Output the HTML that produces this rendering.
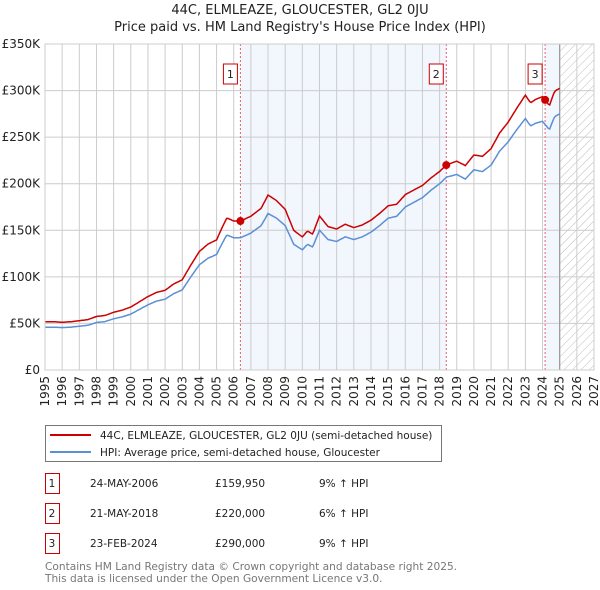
<!DOCTYPE html>
<html><head><meta charset="utf-8"><style>
body{margin:0;background:#fff;font-family:"DejaVu Sans","Liberation Sans",sans-serif;}
#wrap{position:relative;width:600px;height:590px;overflow:hidden}
svg text{font-family:"DejaVu Sans","Liberation Sans",sans-serif}
</style></head><body><div id="wrap">
<svg id="chart" width="600" height="590"></svg>
</div>
<script>
const hpiYears=[1995,1995.5,1996,1996.5,1997,1997.5,1998,1998.5,1999,1999.5,2000,2000.5,2001,2001.5,2002,2002.5,2003,2003.5,2004,2004.5,2005,2005.3,2005.6,2006,2006.4,2007,2007.6,2008,2008.5,2009,2009.5,2010,2010.3,2010.6,2011,2011.5,2012,2012.5,2013,2013.5,2014,2014.5,2015,2015.5,2016,2016.5,2017,2017.5,2018,2018.4,2019,2019.5,2020,2020.5,2021,2021.5,2022,2022.5,2023,2023.3,2023.6,2024,2024.4,2024.7,2025];
const hpiValues=[46,46,45.5,46,47,48,51,52,55,57,60,65,70,74,76,82,86,100,113,120,124,135,145,142,142,147,155,168,163,155,135,129,135,132,150,140,138,143,140,143,148,155,163,165,175,180,185,193,200,207,210,205,215,213,220,235,245,258,270,262,265,267,258,272,275];
const saleYears=[2006.39,2018.39,2024.15];
const salePrices=[159950,220000,290000];
const saleLabels=["1","2","3"];
const saleDates=["24-MAY-2006","21-MAY-2018","23-FEB-2024"];
const salePriceText=["£159,950","£220,000","£290,000"];
const saleDiff=["9% ↑ HPI","6% ↑ HPI","9% ↑ HPI"];
const yTicks=[0,50,100,150,200,250,300,350];
const yTickLabels=["£0","£50K","£100K","£150K","£200K","£250K","£300K","£350K"];
const xTicks=[1995,1996,1997,1998,1999,2000,2001,2002,2003,2004,2005,2006,2007,2008,2009,2010,2011,2012,2013,2014,2015,2016,2017,2018,2019,2020,2021,2022,2023,2024,2025,2026,2027];

const NS="http://www.w3.org/2000/svg";
const svg=document.getElementById('chart');
const L=45,R=594,T=44,B=370;
const x=v=>L+(v-1995)/(2027-1995)*(R-L);
const y=v=>B-v/350*(B-T);
function el(t,a,p){const e=document.createElementNS(NS,t);for(const k in a)e.setAttribute(k,a[k]);(p||svg).appendChild(e);return e;}
function hpiAt(t){for(let i=0;i<hpiYears.length-1;i++){if(t<=hpiYears[i+1]){const f=(t-hpiYears[i])/(hpiYears[i+1]-hpiYears[i]);return hpiValues[i]+f*(hpiValues[i+1]-hpiValues[i]);}}return hpiValues[hpiValues.length-1];}

let t=el('text',{x:300,y:14,'text-anchor':'middle','font-size':13,fill:'#222'});t.textContent="44C, ELMLEAZE, GLOUCESTER, GL2 0JU";

t=el('text',{x:300,y:31,'text-anchor':'middle','font-size':13,fill:'#222'});t.textContent="Price paid vs. HM Land Registry's House Price Index (HPI)";


let s=el('rect',{x:x(saleYears[0]),y:T,width:x(saleYears[1])-x(saleYears[0]),height:B-T,fill:'#f2f6fd'});

s=el('rect',{x:x(saleYears[2]),y:T,width:x(2025)-x(saleYears[2]),height:B-T,fill:'#f2f6fd'});

const defs=el('defs',{});
const pat=el('pattern',{id:'hatch',width:6,height:6,patternUnits:'userSpaceOnUse',patternTransform:'rotate(45)'},defs);
el('line',{x1:0,y1:0,x2:0,y2:6,stroke:'#bbb','stroke-width':1},pat);
s=el('rect',{x:x(2025),y:T,width:R-x(2025),height:B-T,fill:'url(#hatch)'});


yTicks.forEach((v,i)=>{const g=el('line',{x1:L,x2:R,y1:y(v),y2:y(v),stroke:'#ccc'});

const tx=el('text',{x:L-5,y:y(v)+4,'text-anchor':'end','font-size':12,fill:'#222'});tx.textContent=yTickLabels[i];
});
xTicks.forEach(v=>{const g=el('line',{x1:x(v),x2:x(v),y1:T,y2:B,stroke:'#ccc'});

const tx=el('text',{x:0,y:0,'text-anchor':'end','font-size':12,fill:'#222',transform:`translate(${x(v)+4},${B+6}) rotate(-90)`});tx.textContent=v;
});
let ln=el('line',{x1:x(2025),x2:x(2025),y1:T,y2:B,stroke:'#999','stroke-width':1.2});


saleYears.forEach((sy,i)=>{const v=el('line',{x1:x(sy),x2:x(sy),y1:T,y2:B,stroke:'#e06070','stroke-dasharray':'2,2'});
});

const factors=saleYears.map((sy,i)=>salePrices[i]/1000/hpiAt(sy));
function factorAt(t){if(t<=saleYears[0])return factors[0];for(let i=0;i<saleYears.length-1;i++){if(t<=saleYears[i+1]){const f=(t-saleYears[i])/(saleYears[i+1]-saleYears[i]);return factors[i]+f*(factors[i+1]-factors[i]);}}return factors[factors.length-1];}
let hp="",rp="";
for(let tt=1995;tt<=2025.001;tt+=1/12){const h=hpiAt(tt);hp+=(hp?'L':'M')+x(tt).toFixed(1)+','+y(h).toFixed(1);rp+=(rp?'L':'M')+x(tt).toFixed(1)+','+y(h*factorAt(tt)).toFixed(1);}
let p=el('path',{d:hp,fill:'none',stroke:'#5b8fd6','stroke-width':1.5});

p=el('path',{d:rp,fill:'none',stroke:'#cc0000','stroke-width':1.5});

saleYears.forEach((sy,i)=>{const c=el('circle',{cx:x(sy),cy:y(salePrices[i]/1000),r:4,fill:'#cc0000'});

const bx=el('rect',{x:x(sy)-17,y:64,width:14,height:20,fill:'#fff',stroke:'#cc0000'});

const tx=el('text',{x:x(sy)-10,y:78,'text-anchor':'middle','font-size':11,fill:'#222'});tx.textContent=saleLabels[i];
});
let ax=el('rect',{x:L,y:T,width:R-L,height:B-T,fill:'none',stroke:'#ccc'});


const lg=el('g',{});
el('rect',{x:45.5,y:425.5,width:396,height:36,fill:'#fff',stroke:'#777'},lg);
el('line',{x1:50,x2:91,y1:435,y2:435,stroke:'#cc0000','stroke-width':2},lg);
el('line',{x1:50,x2:91,y1:452,y2:452,stroke:'#5b8fd6','stroke-width':2},lg);
t=el('text',{x:100,y:439,'font-size':10.5,fill:'#222'},lg);t.textContent="44C, ELMLEAZE, GLOUCESTER, GL2 0JU (semi-detached house)";

t=el('text',{x:100,y:456,'font-size':10.5,fill:'#222'},lg);t.textContent="HPI: Average price, semi-detached house, Gloucester";


saleLabels.forEach((lb,i)=>{const yy=483+i*30;
const b=el('rect',{x:45.5,y:yy-9.5,width:14,height:20,fill:'#fff',stroke:'#cc0000'});

const cols=[[52,lb,'middle'],[90,saleDates[i],'start'],[215,salePriceText[i],'start'],[319,saleDiff[i],'start']];
cols.forEach(c=>{const tx=el('text',{x:c[0],y:yy+4,'text-anchor':c[2],'font-size':10.5,fill:'#222'});tx.textContent=c[1];
});});
t=el('text',{x:45,y:570,'font-size':10.6,fill:'#777'});t.textContent="Contains HM Land Registry data © Crown copyright and database right 2025.";

t=el('text',{x:45,y:582,'font-size':10.6,fill:'#777'});t.textContent="This data is licensed under the Open Government Licence v3.0.";

</script></body></html>
